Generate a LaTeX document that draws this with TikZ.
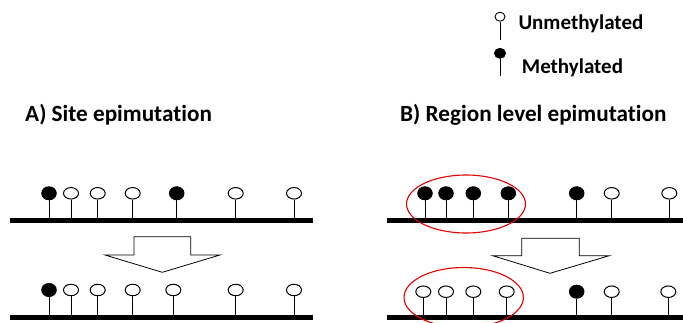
\documentclass[tikz,border=0pt]{standalone}
\usepackage{fontspec}
\setmainfont{Carlito}[Ligatures={NoCommon}]
\usetikzlibrary{shapes.geometric}
\tikzset{
  dna/.style={line width=5pt},
  stem/.style={line width=1pt},
  opencpg/.style={ellipse, draw, line width=1pt, fill=white, minimum width=15pt, minimum height=11.5pt, inner sep=0pt},
  metcpg/.style={ellipse, draw, line width=1pt, fill=black, minimum width=14.5pt, minimum height=13pt, inner sep=0pt},
  legopen/.style={ellipse, draw, line width=0.9pt, fill=white, minimum width=10pt, minimum height=9pt, inner sep=0pt},
  legmet/.style={ellipse, draw, line width=0.9pt, fill=black, minimum width=11pt, minimum height=10pt, inner sep=0pt},
  bigarrow/.style={draw, line width=0.8pt, fill=white},
  region/.style={draw=red!90!black, line width=1.1pt},
  title/.style={font=\bfseries\fontsize{23.2}{25}\selectfont, anchor=base west, inner sep=0pt},
  legtext/.style={font=\bfseries\fontsize{21}{23}\selectfont, anchor=base west, inner sep=0pt}
}
\begin{document}
\begin{tikzpicture}[x=1pt,y=-1pt]
\useasboundingbox (0,0) rectangle (683,322);
% legend
\node[legopen] (lu) at (500,16.7) {};
\coordinate (lue) at (500,40);
\draw[stem] (lu.south) -- (lue);
\node[legtext] (tu) at (518.3,29.3) {Unmethylated};
\node[legmet] (lm) at (500,53.3) {};
\coordinate (lme) at (500,76);
\draw[stem] (lm.south) -- (lme);
\node[legtext] (tm) at (521.7,73.3) {Methylated};
% titles
\node[title] (ta) at (25,121.7) {A) Site epimutation};
\node[title] (tb) at (400,121.7) {B) Region level epimutation};
% DNA lines
\coordinate (a1s) at (10,220.5); \coordinate (a1e) at (313,220.5);
\coordinate (a2s) at (10,317); \coordinate (a2e) at (313,317);
\coordinate (b1s) at (387,220.5); \coordinate (b1e) at (683,220.5);
\coordinate (b2s) at (387,317.5); \coordinate (b2e) at (683,317.5);
\draw[dna] (a1s) -- (a1e);
\draw[dna] (a2s) -- (a2e);
\draw[dna] (b1s) -- (b1e);
\draw[dna] (b2s) -- (b2e);
% A top row
\foreach \x/\s [count=\i] in {49/metcpg,71/opencpg,97.7/opencpg,132.7/opencpg,176.7/metcpg,235.7/opencpg,294/opencpg}{
  \node[\s] (at\i) at (\x,193.3) {};
  \coordinate (atb\i) at (\x,218);
  \draw[stem] (at\i.south) -- (atb\i);
}
% A bottom row
\foreach \x/\s [count=\i] in {49/metcpg,71/opencpg,97.7/opencpg,132.7/opencpg,173.3/opencpg,235.7/opencpg,294/opencpg}{
  \node[\s] (ab\i) at (\x,290) {};
  \coordinate (abb\i) at (\x,314.5);
  \draw[stem] (ab\i.south) -- (abb\i);
}
% B top row
\foreach \x/\s [count=\i] in {425/metcpg,446/metcpg,473.3/metcpg,508.3/metcpg,576.7/metcpg,611.7/opencpg,669.3/opencpg}{
  \node[\s] (bt\i) at (\x,193.3) {};
  \coordinate (btb\i) at (\x,218);
  \draw[stem] (bt\i.south) -- (btb\i);
}
% B bottom row
\foreach \x/\s [count=\i] in {423.3/opencpg,446/opencpg,473.3/opencpg,506.7/opencpg,576.7/metcpg,611.7/opencpg,668.3/opencpg}{
  \node[\s] (bb\i) at (\x,291.7) {};
  \coordinate (bbb\i) at (\x,315);
  \draw[stem] (bb\i.south) -- (bbb\i);
}
% arrows
\draw[bigarrow] (134,236.7) -- (190.7,236.7) -- (190.7,255) -- (220,255) -- (162.3,272.3) -- (105,255) -- (134,255) -- cycle;
\draw[bigarrow] (521.7,238.3) -- (579.3,238.3) -- (579.3,255.7) -- (609.3,255.7) -- (550,273.3) -- (492.7,255.7) -- (521.7,255.7) -- cycle;
% red regions
\draw[region] (466,204) ellipse [x radius=59.5, y radius=29];
\draw[region] (463.7,297.5) ellipse [x radius=59.7, y radius=30];
\end{tikzpicture}
\end{document}
